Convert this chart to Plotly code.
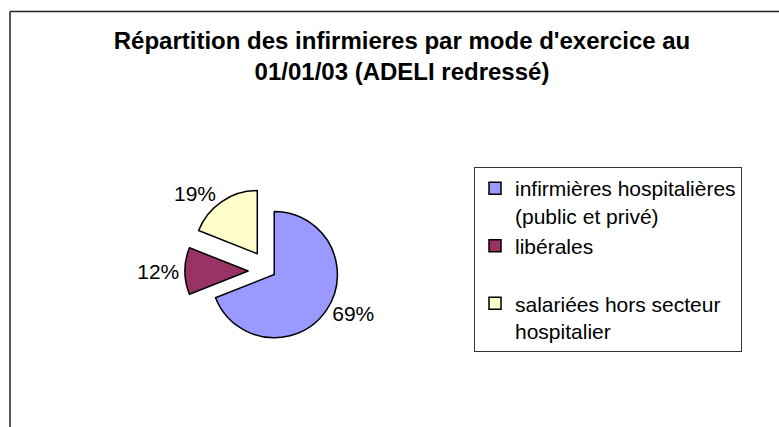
import plotly.graph_objects as go

# données
labels = ["infirmières hospitalières<br>(public et privé)", "libérales<br> ", "salariées hors secteur<br>hospitalier"]
values = [69, 12, 19]
colors = ["#9999FF", "#993366", "#FFFFCC"]
pulls = [0.1, 0.33, 0.33]

W, H = 779, 427
font = "Arial, Liberation Sans, sans-serif"

fig = go.Figure()
fig.add_trace(go.Pie(
    labels=labels,
    values=values,
    sort=False,
    direction="clockwise",
    rotation=0,
    pull=pulls,
    marker=dict(colors=colors, line=dict(color="black", width=1.5)),
    textinfo="percent",
    textposition="outside",
    textfont=dict(size=21, color="black", family=font),
    domain=dict(x=[185 / W, 353 / W], y=[1 - 355 / H, 1 - 187 / H]),
    hoverinfo="label+percent",
))

# cadre du graphique (bord haut et bord gauche visibles)
top = 1 - 11.5 / H
left = 10 / W
border = [
    dict(type="line", xref="paper", yref="paper", x0=left, x1=1, y0=top, y1=top,
         line=dict(color="#222222", width=1.5)),
    dict(type="line", xref="paper", yref="paper", x0=left, x1=left, y0=0, y1=top,
         line=dict(color="#222222", width=1.5)),
]

fig.update_layout(
    width=W, height=H,
    margin=dict(l=0, r=0, t=0, b=0),
    paper_bgcolor="white",
    plot_bgcolor="white",
    font=dict(family=font, color="black"),
    title=dict(
        text="<b>Répartition des infirmieres par mode d'exercice au<br>01/01/03 (ADELI redressé)</b>",
        x=402 / W, xanchor="center",
        y=1 - 49 / H, yanchor="top",
        font=dict(size=24, family=font, color="black"),
    ),
    legend=dict(
        x=474 / W, y=1 - 167 / H, xanchor="left", yanchor="top",
        bordercolor="#333333", borderwidth=1,
        font=dict(size=21, family=font, color="black"),
        valign="top",
        bgcolor="white",
    ),
    shapes=border,
)

fig.write_html("out.html", config={"displayModeBar": False},
               post_script="document.body.style.margin='0';")
